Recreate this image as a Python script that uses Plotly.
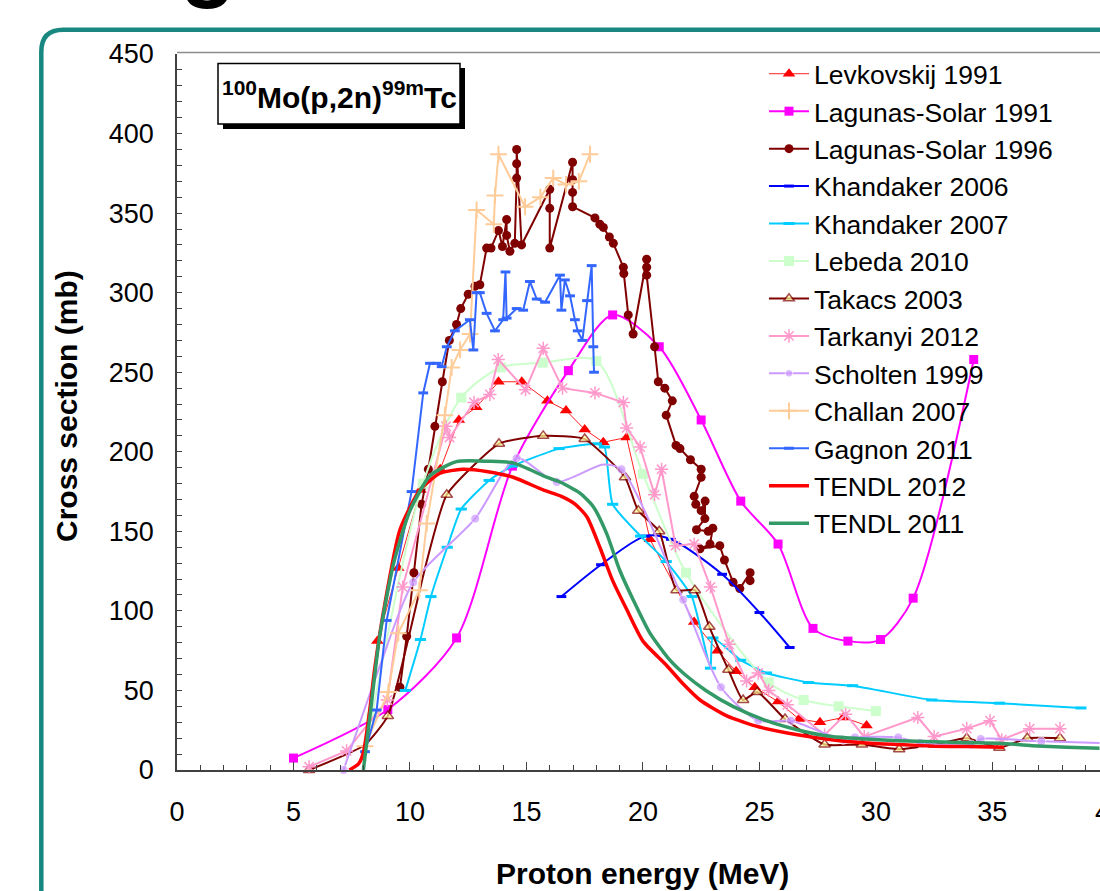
import plotly.graph_objects as go

# ---------------- data ----------------
lev_e = [8.6, 9.5, 10.45, 11.3, 12.1, 12.85, 13.8, 14.8, 15.9, 16.7, 17.5, 18.3, 19.3, 20.3, 22.2, 23.2, 24.0, 24.8, 25.8, 26.7, 27.6, 28.6, 29.6]
lev_s = [81, 127, 176, 189, 220, 228, 244, 244, 232, 226, 214, 206, 209, 145, 93, 75, 62, 52, 43, 32, 30, 33, 28]

ls91_e = [5.0, 9.05, 12.0, 14.4, 16.8, 18.7, 20.7, 22.5, 24.2, 25.8, 27.3, 28.8, 30.2, 31.6, 34.2]
ls91_s = [7.5, 38, 83, 191, 251, 286, 266, 220, 169, 142, 89, 81, 82, 108, 258]

ls96_e = [9.57, 9.86, 10.17, 10.5, 10.79, 11.07, 11.39, 11.69, 12.0, 12.18, 12.5, 12.79, 13.0, 13.29, 13.48, 13.8, 13.97,
          14.15, 14.15, 14.29, 14.5, 14.58, 14.58, 14.58, 14.79, 16.0, 16.0, 16.0, 16.98, 16.98, 16.98, 16.98, 17.94,
          18.15, 18.3, 18.56, 18.73, 19.16, 19.18, 19.37, 19.58, 20.16, 20.16, 20.16, 20.5, 20.66, 20.94, 21.26, 21.0,
          21.42, 21.59, 22.04, 22.5, 22.5, 22.2, 22.27, 22.5, 22.67, 22.66, 22.3, 22.8, 23.0, 22.88, 22.45, 23.3, 23.5,
          23.87, 24.16, 24.6, 24.6]
ls96_s = [52, 84, 124, 167, 189, 216, 244, 270, 280, 290, 299, 304, 305, 328, 328, 339, 329,
          346, 336, 326, 331, 372, 381, 390, 330, 365, 353, 328, 382, 371, 363, 354, 347,
          343, 341, 335, 331, 316, 312, 286, 274, 321, 316, 311, 266, 244, 240, 232, 223,
          204, 202, 195, 189, 184, 172, 167, 163, 169, 158, 151, 150, 152, 142, 139, 141, 132,
          118, 114, 124, 119]

kh06_e = [16.5, 18.2, 20.1, 21.2, 23.4, 25.0, 26.3]
kh06_s = [109, 129, 147, 145, 123, 99, 77]

kh07_e = [9.8, 10.45, 10.9, 11.6, 12.2, 13.4, 14.4, 16.4, 18.0, 18.35, 18.7, 19.9, 21.0, 22.1, 22.9, 23.0, 24.2, 25.3,
          27.1, 29.0, 32.4, 35.3, 38.8]
kh07_s = [50, 82, 109, 140, 164, 182, 191, 202, 205, 203, 167, 147, 131, 109, 64, 83, 69, 61, 55, 53, 44, 42, 39]

leb_e = [8.35, 10.55, 12.2, 13.9, 15.7, 18.0, 20.0, 21.85, 25.4, 26.9, 28.4, 30.0]
leb_s = [33, 180, 234, 253, 256, 257, 186, 124, 55, 44, 40, 37]

tak_e = [5.67, 8.05, 9.05, 10.7, 11.58, 13.82, 15.72, 17.5, 19.23, 19.8, 20.7, 21.44, 22.23, 22.85, 23.67, 24.3, 24.9,
         26.1, 27.8, 29.4, 31.0, 32.5, 33.9, 35.3, 36.5, 37.9]
tak_s = [0, 15.7, 34, 130, 173, 205, 210, 208, 184, 163, 150, 113, 113, 90, 63, 44, 49, 32, 16, 16, 13, 16, 20, 14, 20, 20]

tar_e = [5.67, 7.28, 9.03, 9.69, 11.55, 11.7, 12.75, 13.43, 13.79, 14.96, 15.72, 16.55, 17.94, 19.16, 19.3, 19.88,
         20.5, 20.8, 21.4, 22.2, 22.9, 23.7, 24.45, 24.95, 25.4, 26.2, 27.8, 28.7, 29.5, 31.8, 32.5, 33.9, 34.9, 35.4,
         36.6, 37.9]
tar_s = [2, 12, 44, 115, 216, 209, 231, 236, 258, 239, 265, 240, 237, 231, 215, 203, 173, 189, 141, 142, 115, 79, 56,
         61, 50, 41, 22, 35, 21, 33, 21, 26, 31, 19, 26, 26]

sch_e = [7.15, 8.7, 10.14, 12.8, 14.58, 16.3, 18.3, 19.08, 21.73, 23.35, 24.95, 26.35, 28.6, 29.1, 30.96, 31.9, 34.1,
         34.5, 37.1, 39.6]
sch_s = [0, 65, 118, 158, 196, 181, 192, 189, 107, 52, 31, 31, 19, 20.5, 20.5, 17, 16, 19.5, 18, 17]

cha_e = [8.07, 9.07, 9.5, 10.4, 10.72, 11.5, 11.79, 12.15, 12.58, 12.86, 13.6, 13.65, 13.8, 14.94, 15.6, 16.15, 16.7,
         17.25, 17.73]
cha_s = [15, 49, 86, 113, 155, 223, 253, 264, 274, 352, 343, 361, 387, 354, 360, 372, 368, 370, 387]

gag_e = [8.07, 8.57, 9.0, 10.07, 10.57, 10.86, 11.14, 11.36, 11.58, 11.93, 12.57, 12.72, 12.86, 13.0, 13.29, 13.65,
         14.0, 14.1, 14.15, 14.58, 14.86, 15.15, 15.44, 15.8, 16.44, 16.5, 16.65, 16.87, 17.08, 17.2, 17.4, 17.6, 17.8,
         17.87, 17.9]
gag_s = [11.5, 37.7, 94, 175, 237, 255.6, 255.6, 253.5, 266, 276, 283, 264, 300, 300, 287, 276, 283, 313, 284, 290,
         289, 307, 296, 294, 311, 289, 308, 298, 283, 276, 270, 295, 317, 266, 250]

t12_e = [7.4, 7.8, 8.0, 8.25, 8.5, 8.93, 9.57, 10.43, 11.29, 12.25, 13.35, 14.43, 15.72, 16.5, 17.1, 17.6, 18.15, 18.7,
         19.3, 20.0, 21.0, 21.7, 22.45, 23.6, 25.0, 26.7, 28.1, 29.6, 31.0, 32.5, 33.9, 35.5]
t12_s = [0, 4, 11, 35, 65, 105, 151, 176, 186.5, 189, 187.5, 184, 176, 172, 167, 159, 140, 119, 101, 81, 66, 54.5, 44,
         34, 27, 22, 19, 17, 16, 15, 14.7, 14.3]

t11_e = [8.0, 8.15, 8.3, 8.7, 9.3, 10.0, 10.86, 12.0, 13.4, 14.43, 15.87, 16.44, 17.3, 17.87, 18.44, 19.0, 19.58, 20.3,
         21.16, 21.8, 22.7, 23.86, 25.3, 26.7, 28.1, 29.6, 31.0, 32.5, 33.9, 35.3, 36.7, 38.2, 39.6]
t11_s = [0, 18, 36, 84, 130, 163, 185, 193.8, 194, 193, 184, 181, 174, 165.5, 148.7, 125.7, 107, 86, 69, 60, 50, 40,
         31, 25, 21, 19.5, 18.4, 17.8, 17.2, 16.8, 15.3, 14.3, 13.6]

x_ticks = [0, 5, 10, 15, 20, 25, 30, 35]
y_ticks = [0, 50, 100, 150, 200, 250, 300, 350, 400, 450]

# ---------------- geometry helpers ----------------
W, H = 1100, 891
L, R, T, B = 177, 0, 54, 121
PW, PH = W - L - R, H - T - B


def px(x):
    return (x - L) / PW


def py(y):
    return (H - B - y) / PH


FONT = "Arial, Liberation Sans, sans-serif"

fig = go.Figure()


def add(name, x, y, color, width=2, symbol=None, msize=9, mcolor=None, mline=None, mlw=0, shape="linear",
        smoothing=1.0):
    marker = None
    mode = "lines"
    if symbol is not None:
        mode = "lines+markers"
        marker = dict(symbol=symbol, size=msize, color=mcolor or color,
                      line=dict(color=mline or color, width=mlw))
    line = dict(color=color, width=width, shape=shape)
    if shape == "spline":
        line["smoothing"] = smoothing
    fig.add_trace(go.Scatter(x=x, y=y, name=name, mode=mode, line=line, marker=marker,
                             legendgroup=name, cliponaxis=False))


add("Levkovskij 1991", lev_e, lev_s, "#FF2020", width=1, symbol="triangle-up", msize=11, mcolor="#FF0000")
add("Lagunas-Solar 1991", ls91_e, ls91_s, "#FF00FF", width=2, symbol="square", msize=9, shape="spline",
    smoothing=0.8)
add("Lagunas-Solar 1996", ls96_e, ls96_s, "#800000", width=2, symbol="circle", msize=9)
add("Khandaker 2006", kh06_e, kh06_s, "#0000FF", width=2, symbol="line-ew-open", msize=7, mlw=3,
    shape="spline", smoothing=0.8)
add("Khandaker 2007", kh07_e, kh07_s, "#00CCFF", width=2, symbol="line-ew-open", msize=8, mlw=3,
    shape="spline", smoothing=0.5)
add("Lebeda 2010", leb_e, leb_s, "#CCFFCC", width=2, symbol="square", msize=10, shape="spline", smoothing=0.8)

tak_sizes = [10 if i not in (1, 3) else 0 for i in range(len(tak_e))]
fig.add_trace(go.Scatter(x=tak_e, y=tak_s, name="Takacs 2003", mode="lines+markers", legendgroup="Takacs 2003",
                         line=dict(color="#800000", width=2, shape="spline", smoothing=0.5),
                         marker=dict(symbol="triangle-up", size=tak_sizes, color="#FFFF99",
                                     line=dict(color="#800000", width=1.5)), cliponaxis=False))

add("Tarkanyi 2012", tar_e, tar_s, "#FF99CC", width=2, symbol="asterisk-open", msize=11, mlw=1.5)

sch_sizes = [9 if i not in (1, 6, len(sch_e) - 1) else 0 for i in range(len(sch_e))]
fig.add_trace(go.Scatter(x=sch_e, y=sch_s, name="Scholten 1999", mode="lines+markers", legendgroup="Scholten 1999",
                         line=dict(color="#CC99FF", width=2, shape="spline", smoothing=0.7),
                         marker=dict(symbol="circle", size=sch_sizes, color="#CC99FF"), cliponaxis=False))

add("Challan 2007", cha_e, cha_s, "#FFCC99", width=2, symbol="cross-thin-open", msize=12, mlw=2)
add("Gagnon 2011", gag_e, gag_s, "#3366FF", width=2, symbol="line-ew-open", msize=7, mlw=3)
add("TENDL 2012", t12_e, t12_s, "#FF0000", width=3.5, shape="spline", smoothing=0.6)
add("TENDL 2011", t11_e, t11_s, "#339966", width=3.5, shape="spline", smoothing=0.6)

axis_col = "#404040"
fig.update_xaxes(range=[0, 39.62], tickvals=x_ticks, ticks="inside", ticklen=8, tickwidth=1.3, tickcolor=axis_col,
                 showline=True, linecolor=axis_col, linewidth=1.5, showgrid=False, zeroline=False,
                 tickfont=dict(family=FONT, size=27, color="black"), ticklabelstandoff=17,
                 minor=dict(dtick=1, ticks="inside", ticklen=5, tickwidth=1.2, tickcolor=axis_col))
fig.update_yaxes(range=[0, 450], tickvals=y_ticks, ticks="inside", ticklen=5, tickwidth=1.2, tickcolor=axis_col,
                 showline=True, linecolor=axis_col, linewidth=1.5, showgrid=False, zeroline=False,
                 tickfont=dict(family=FONT, size=27, color="black"), ticklabelstandoff=16,
                 minor=dict(dtick=10, ticks="inside", ticklen=5, tickwidth=1.2, tickcolor=axis_col))

teal = "#17877F"
r = 22
x0, y0 = 41.3, 29.7
path = (f"M {px(x0)},{py(H + 20)} L {px(x0)},{py(y0 + r)} Q {px(x0)},{py(y0)} {px(x0 + r)},{py(y0)} "
        f"L {px(W + 20)},{py(y0)}")

shapes = [
    dict(type="path", xref="paper", yref="paper", path=path, line=dict(color=teal, width=4.5), layer="above"),
    dict(type="line", xref="paper", yref="paper", x0=0, x1=1.02, y0=py(52.5), y1=py(52.5),
         line=dict(color="#8C8C8C", width=1.5)),
    dict(type="rect", xref="paper", yref="paper", x0=px(223), x1=px(465), y0=py(68), y1=py(129),
         fillcolor="black", line=dict(width=0)),
    dict(type="rect", xref="paper", yref="paper", x0=px(218), x1=px(460), y0=py(63.5), y1=py(124),
         fillcolor="white", line=dict(color="black", width=1.5)),
]

annotations = [
    dict(text="<sup>100</sup>Mo(p,2n)<sup>99m</sup>Tc", xref="paper", yref="paper", x=px(339), y=py(95),
         showarrow=False, xanchor="center", yanchor="middle",
         font=dict(family=FONT, size=30, color="black", weight="bold")),
    dict(text="Proton energy (MeV)", xref="paper", yref="paper", x=px(642), y=py(873), showarrow=False,
         xanchor="center", yanchor="middle", font=dict(family=FONT, size=30, color="black", weight="bold")),
    dict(text="Cross section (mb)", xref="paper", yref="paper", x=px(66), y=py(406), showarrow=False,
         textangle=-90, xanchor="center", yanchor="middle",
         font=dict(family=FONT, size=30, color="black", weight="bold")),
    dict(text="40", xref="paper", yref="paper", x=px(1110), y=py(812), showarrow=False, xanchor="center",
         yanchor="middle", font=dict(family=FONT, size=27, color="black")),
    dict(text="g", xref="paper", yref="paper", x=px(208), y=py(11), showarrow=False, xanchor="center",
         yanchor="bottom", font=dict(family=FONT, size=92, color="black", weight="bold")),
]

fig.update_layout(
    width=W, height=H, margin=dict(l=L, r=R, t=T, b=B, pad=0),
    paper_bgcolor="white", plot_bgcolor="white",
    shapes=shapes, annotations=annotations,
    legend=dict(x=px(764), y=py(50), xanchor="left", yanchor="top", bgcolor="rgba(0,0,0,0)",
                font=dict(family=FONT, size=26.5, color="black"), traceorder="grouped", tracegroupgap=0,
                itemwidth=40, maxheight=700),
    showlegend=True,
)

fig.write_html("out.html", post_script="document.body.style.margin='0px';",
               config={"displayModeBar": False})
